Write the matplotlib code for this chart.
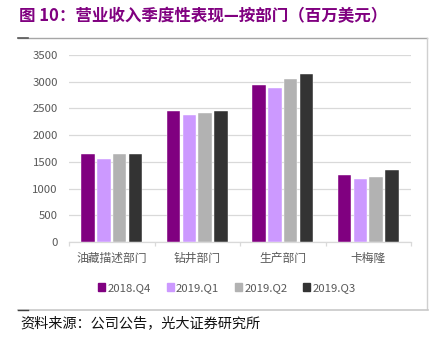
import matplotlib
matplotlib.use("Agg")
import matplotlib.pyplot as plt
from matplotlib.lines import Line2D
from matplotlib.patches import Rectangle
import numpy as np

plt.rcParams['font.family'] = ['Noto Sans CJK SC', 'DejaVu Sans']

categories = ["油藏描述部门", "钻井部门", "生产部门", "卡梅隆"]
series_names = ["2018.Q4", "2019.Q1", "2019.Q2", "2019.Q3"]
q4_2018 = [1650, 2460, 2930, 1260]
q1_2019 = [1550, 2380, 2890, 1175]
q2_2019 = [1640, 2410, 3060, 1220]
q3_2019 = [1640, 2460, 3140, 1350]
series_values = [q4_2018, q1_2019, q2_2019, q3_2019]
colors = ["#800080", "#CC99FF", "#B2B2B2", "#333333"]
yticks = [0, 500, 1000, 1500, 2000, 2500, 3000, 3500]

W, H = 437, 343
fig = plt.figure(figsize=(W / 100, H / 100), dpi=100)

def fx(px):
    return px / W

def fy(py):
    return 1 - py / H

# title
fig.text(fx(19), fy(16), "图 10：营业收入季度性表现—按部门（百万美元）",
         color="#800080", fontsize=11.9, fontweight="bold", va="center", ha="left")

# frame around the chart area
fig.add_artist(Line2D([fx(18), fx(427)], [fy(37.5), fy(37.5)], color="#A6A6A6", lw=1.0))
fig.add_artist(Line2D([fx(18), fx(28)], [fy(37.5), fy(37.5)], color="#595959", lw=1.2))
fig.add_artist(Line2D([fx(427), fx(427)], [fy(37.5), fy(309)], color="#D0D0D0", lw=1.0))
fig.add_artist(Line2D([fx(18), fx(428)], [fy(309.5), fy(309.5)], color="#C8C8C8", lw=1.2))
fig.add_artist(Line2D([fx(18), fx(28)], [fy(309.5), fy(309.5)], color="#404040", lw=1.0))

ax = fig.add_axes([fx(69), fy(242), fx(411) - fx(69), fy(55) - fy(242)])
x = np.arange(len(categories))
slot = 0.185
width = 0.158
for i, (name, vals, c) in enumerate(zip(series_names, series_values, colors)):
    ax.bar(x + (i - 1.5) * slot, vals, width, color=c, label=name,
           edgecolor="white", linewidth=0.3, zorder=3)

ax.set_xlim(-0.5, len(categories) - 0.5)
ax.set_ylim(0, 3500)
ax.set_yticks(yticks)
ax.set_yticklabels([str(v) for v in yticks])
ax.yaxis.grid(True, color="#D9D9D9", lw=0.9, zorder=0)
ax.set_axisbelow(True)
for s in ["top", "right", "left"]:
    ax.spines[s].set_visible(False)
ax.spines["bottom"].set_color("#D9D9D9")
ax.spines["bottom"].set_linewidth(0.9)
ax.tick_params(axis="y", length=0, labelsize=8.2, labelcolor="#595959", pad=8)
ax.set_xticks(x)
ax.set_xticklabels(categories)
ax.tick_params(axis="x", length=0, labelsize=8.5, labelcolor="#595959", pad=7)
ax.set_xticks(np.arange(-0.5, len(categories)), minor=True)
ax.tick_params(axis="x", which="minor", length=3, color="#D9D9D9", width=0.9)

handles = [Rectangle((0, 0), 1, 1, color=c) for c in colors]
fig.legend(handles, series_names, loc="center", bbox_to_anchor=(fx(227), fy(288)),
           ncol=4, frameon=False, fontsize=8.2, labelcolor="#595959",
           handlelength=0.6, handleheight=0.6, handletextpad=0.2, columnspacing=1.4)

fig.text(fx(20), fy(323), "资料来源：公司公告，光大证券研究所", fontsize=10.2,
         color="#111111", va="center", ha="left")

fig.savefig("out.png", dpi=100)
